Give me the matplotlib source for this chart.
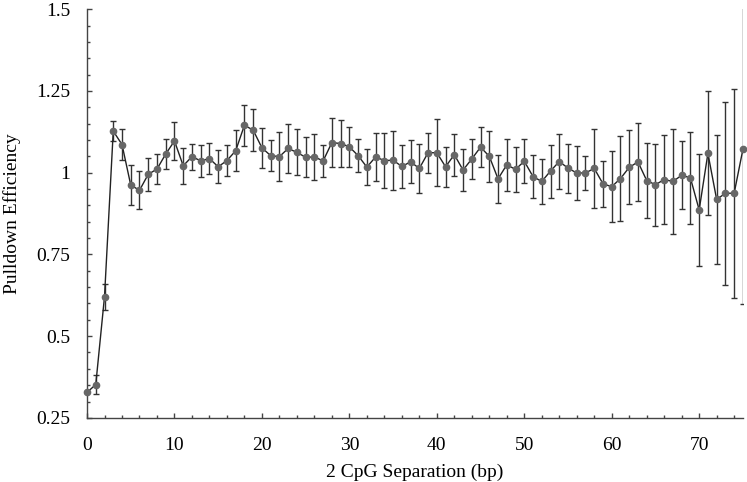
import matplotlib
matplotlib.use("Agg")
import matplotlib.pyplot as plt
from matplotlib.ticker import MultipleLocator, FormatStrFormatter

plt.rcParams['font.family'] = ['Liberation Serif', 'DejaVu Serif']

# separation (bp) 0..75
separation = list(range(76))
efficiency = [
    0.328, 0.352, 0.621, 1.127, 1.086, 0.962, 0.946, 0.995, 1.011, 1.057,
    1.097, 1.021, 1.049, 1.036, 1.043, 1.018, 1.037, 1.067, 1.145, 1.130,
    1.076, 1.052, 1.049, 1.074, 1.062, 1.047, 1.048, 1.036, 1.092, 1.089,
    1.079, 1.052, 1.017, 1.048, 1.037, 1.038, 1.019, 1.033, 1.013, 1.061,
    1.061, 1.018, 1.055, 1.008, 1.042, 1.078, 1.050, 0.981, 1.024, 1.010,
    1.035, 0.988, 0.973, 1.005, 1.034, 1.014, 0.999, 0.999, 1.013, 0.966,
    0.957, 0.982, 1.016, 1.033, 0.976, 0.963, 0.979, 0.973, 0.992, 0.984,
    0.886, 1.059, 0.918, 0.937, 0.937, 1.071,
]
error = [
    0.000, 0.029, 0.040, 0.030, 0.047, 0.060, 0.058, 0.050, 0.047, 0.045,
    0.058, 0.055, 0.040, 0.048, 0.047, 0.050, 0.047, 0.063, 0.062, 0.065,
    0.061, 0.048, 0.075, 0.076, 0.070, 0.061, 0.070, 0.050, 0.075, 0.072,
    0.062, 0.050, 0.055, 0.074, 0.083, 0.090, 0.067, 0.066, 0.076, 0.061,
    0.103, 0.061, 0.064, 0.063, 0.061, 0.062, 0.078, 0.073, 0.080, 0.068,
    0.068, 0.066, 0.068, 0.081, 0.084, 0.075, 0.082, 0.053, 0.120, 0.070,
    0.108, 0.130, 0.113, 0.120, 0.116, 0.125, 0.136, 0.160, 0.104, 0.140,
    0.170, 0.190, 0.198, 0.280, 0.320, 0.474,
]

fig = plt.figure(figsize=(7.47, 4.82), dpi=100)
ax = fig.add_axes([0.1165, 0.133, 0.878, 0.848])

# error bars (clipped at the axes edge, as in the original)
ax.errorbar(separation, efficiency, yerr=error, fmt='none',
            ecolor='#333333', elinewidth=1, capsize=2, capthick=1)
# line and markers
ax.plot(separation, efficiency, color='#222222', lw=1, marker='o',
        markersize=4.5, markerfacecolor='#676767',
        markeredgecolor='#676767', clip_on=False, zorder=3)

ax.set_xlim(0, 75)
ax.set_ylim(0.25, 1.5)
ax.xaxis.set_major_locator(MultipleLocator(10))
ax.xaxis.set_minor_locator(MultipleLocator(2))
ax.yaxis.set_major_locator(MultipleLocator(0.25))
ax.yaxis.set_minor_locator(MultipleLocator(0.05))
ax.yaxis.set_major_formatter(FormatStrFormatter('%g'))

for s in ['top', 'right']:
    ax.spines[s].set_visible(False)
for s in ['left', 'bottom']:
    ax.spines[s].set_color('#444444')
    ax.spines[s].set_linewidth(1)

ax.tick_params(which='both', direction='in', color='#444444', labelsize=14)
ax.tick_params(which='major', length=3.6, width=1)
ax.tick_params(which='minor', length=2.2, width=1)
ax.tick_params(axis='y', pad=12)
ax.tick_params(axis='x', pad=14)

ax.set_xlabel('2 CpG Separation (bp)', fontsize=14, labelpad=7)
ax.set_ylabel('Pulldown Efficiency', fontsize=14, labelpad=11)

fig.savefig('out.png', dpi=100)
